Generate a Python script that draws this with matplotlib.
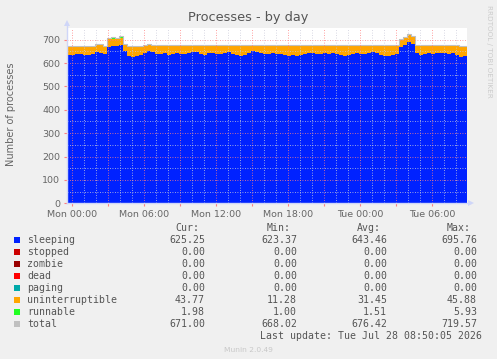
import numpy as np
import matplotlib
matplotlib.use("Agg")
import matplotlib.pyplot as plt
from matplotlib.patches import Rectangle

# ---------------- data ----------------
# samples every 20 minutes, starting Sunday 23:35 (hours relative to Mon 00:00)
t_start = -0.4167
t_step = 1.0 / 3.0

sleeping = [636, 634, 638, 640, 635, 634, 637, 646, 642, 640,
            668, 675, 672, 678, 650, 632, 628, 630, 633, 645,
            652, 648, 640, 638, 642, 636, 640, 645, 638, 640,
            643, 648, 646, 640, 636, 642, 645, 640, 638, 642,
            646, 640, 634, 630, 636, 645, 650, 648, 642, 638,
            640, 642, 638, 640, 636, 632, 634, 632, 636, 640,
            645, 643, 640, 638, 642, 640, 644, 638, 634, 632,
            636, 640, 642, 638, 640, 645, 646, 644, 636, 632,
            630, 633, 640, 668, 676, 690, 682, 642, 636, 638,
            642, 640, 645, 642, 644, 640, 642, 634, 628, 630, 625]
uninterruptible = [36, 38, 34, 32, 37, 38, 36, 35, 38, 33,
                   34, 30, 34, 30, 28, 40, 44, 42, 40, 32,
                   26, 30, 36, 38, 34, 40, 36, 30, 38, 35,
                   33, 28, 30, 36, 40, 34, 30, 36, 38, 34,
                   30, 35, 42, 44, 40, 32, 26, 28, 34, 38,
                   36, 33, 38, 36, 40, 42, 41, 43, 38, 35,
                   30, 32, 36, 38, 33, 36, 31, 37, 41, 43,
                   39, 35, 33, 38, 36, 30, 30, 32, 40, 42,
                   44, 41, 36, 30, 32, 28, 30, 34, 40, 38,
                   34, 36, 30, 33, 32, 36, 34, 40, 44, 42, 44]
runnable = [1.5, 1.2, 2.0, 1.4, 1.1, 1.6, 1.3, 2.4, 1.5, 1.2,
            3.5, 4.8, 2.6, 5.9, 1.8, 1.3, 1.1, 1.5, 1.4, 2.0,
            1.6, 1.2, 1.5, 1.8, 1.3, 1.4, 2.2, 1.5, 1.1, 1.6,
            1.4, 1.9, 1.3, 1.5, 1.2, 1.6, 1.4, 1.3, 1.8, 1.5,
            1.2, 1.6, 1.4, 1.3, 1.7, 1.5, 2.1, 1.4, 1.2, 1.5,
            1.3, 1.6, 1.4, 1.8, 1.5, 1.2, 1.4, 1.6, 1.3, 1.5,
            2.0, 1.4, 1.3, 1.5, 1.7, 1.2, 1.4, 1.6, 1.5, 1.3,
            1.4, 1.8, 1.5, 1.2, 1.6, 1.4, 1.5, 1.3, 1.4, 1.6,
            1.2, 1.5, 1.4, 3.2, 4.5, 5.2, 2.8, 1.6, 1.4, 1.5,
            1.3, 1.7, 1.4, 1.5, 1.2, 1.6, 1.4, 1.5, 1.3, 1.6, 2.0]
zeros = [0.0] * len(sleeping)
stopped, zombie, dead, paging = zeros, zeros, zeros, zeros

series_names = ["sleeping", "stopped", "zombie", "dead", "paging",
                "uninterruptible", "runnable", "total"]
series_colors = ["#0022ff", "#cc0000", "#990000", "#ff0000", "#00aaaa",
                 "#ffa500", "#22ff22", "#c0c0c0"]
cur_vals = ["625.25", "0.00", "0.00", "0.00", "0.00", "43.77", "1.98", "671.00"]
min_vals = ["623.37", "0.00", "0.00", "0.00", "0.00", "11.28", "1.00", "668.02"]
avg_vals = ["643.46", "0.00", "0.00", "0.00", "0.00", "31.45", "1.51", "676.42"]
max_vals = ["695.76", "0.00", "0.00", "0.00", "0.00", "45.88", "5.93", "719.57"]

x_tick_pos = [0, 6, 12, 18, 24, 30]
x_tick_labels = ["Mon 00:00", "Mon 06:00", "Mon 12:00", "Mon 18:00",
                 "Tue 00:00", "Tue 06:00"]

# ---------------- figure ----------------
W, H = 497, 359
fig = plt.figure(figsize=(W / 100, H / 100), dpi=100, facecolor="#F0F0F0")
L, R, B, T = 67, 467, 203.3, 28
ax = fig.add_axes([L / W, 1 - B / H, (R - L) / W, (B - T) / H])
ax.set_facecolor("white")

n = len(sleeping)
t = t_start + t_step * np.arange(n)
stack = [np.array(s, float) for s in
         (sleeping, stopped, zombie, dead, paging, uninterruptible, runnable)]
base = np.zeros(n)
for vals, col in zip(stack, series_colors[:7]):
    top = base + vals
    ax.fill_between(t, base, top, step="post", color=col, lw=0, zorder=1)
    base = top
ax.step(t, base, where="post", color=series_colors[7], lw=0.8, zorder=1.5)

ax.set_xlim(-0.4167, 32.9167)
ax.set_ylim(0, 750)

FONT = "#666666"
ax.set_xticks(np.arange(0, 33, 3))
ax.set_xticklabels([x_tick_labels[x_tick_pos.index(v)] if v in x_tick_pos else ""
                    for v in np.arange(0, 33, 3)])
ax.set_xticks(np.arange(0, 33, 1), minor=True)
ax.set_yticks(np.arange(0, 800, 100))
ax.set_yticks(np.arange(0, 750, 50), minor=True)
ax.tick_params(axis="both", which="major", labelsize=6.8, colors="#ff8080",
               labelcolor=FONT, length=2.5, width=0.8)
ax.tick_params(axis="x", which="major", pad=2)
ax.tick_params(axis="y", which="major", pad=2.5)
ax.tick_params(axis="both", which="minor", length=0)
ax.set_axisbelow(False)
ax.grid(which="minor", color=(0.8, 0.8, 0.86, 0.6), linestyle=(0, (1, 2)), lw=0.6)
ax.grid(which="major", color=(1.0, 0.5, 0.5, 0.6), linestyle=(0, (1, 2)), lw=0.6)
for s in ax.spines.values():
    s.set_visible(False)

# overlay in pixel coordinates for axes arrows, title and legend
ov = fig.add_axes([0, 0, 1, 1], facecolor="none")
ov.set_xlim(0, W)
ov.set_ylim(H, 0)
ov.axis("off")
AX = "#CFD6F8"
ov.plot([L, L], [B, 24], color=AX, lw=1)
ov.plot([L, 470], [B, B], color=AX, lw=1)
ov.plot([L], [23], marker="^", color=AX, ms=4, mew=0)
ov.plot([471], [B], marker=">", color=AX, ms=4, mew=0)

ov.text(11, 114, "Number of processes", rotation=90, ha="center", va="center",
        fontsize=7, color=FONT)
ov.text(248, 18, "Processes - by day", ha="center", va="center",
        fontsize=9.3, color="#555555")
ov.text(489, 5, "RRDTOOL / TOBI OETIKER", rotation=270, ha="center", va="top",
        fontsize=5.2, color="#cccccc")

mono = "DejaVu Sans Mono"
LEG = "#555555"
fs = 7.1
for hx, htxt in ((199, "Cur:"), (291, "Min:"), (381, "Avg:"), (471, "Max:")):
    ov.text(hx, 228, htxt, ha="right", va="center", family=mono, fontsize=fs, color=LEG)
for i, name in enumerate(series_names):
    y = 240 + 12 * i
    ov.add_patch(Rectangle((14, y - 3), 6, 6, facecolor=series_colors[i],
                           edgecolor="none"))
    ov.text(27, y, name, ha="left", va="center", family=mono, fontsize=fs, color=LEG)
    for cx, vals in ((205, cur_vals), (297, min_vals), (387, avg_vals), (477, max_vals)):
        ov.text(cx, y, vals[i], ha="right", va="center", family=mono,
                fontsize=fs, color=LEG)
ov.text(482, 336, "Last update: Tue Jul 28 08:50:05 2026", ha="right", va="center",
        family=mono, fontsize=fs, color=LEG)
ov.text(248, 350, "Munin 2.0.49", ha="center", va="center", fontsize=5.4,
        color="#c8c8c8")

fig.savefig("out.png", dpi=100, facecolor=fig.get_facecolor())
